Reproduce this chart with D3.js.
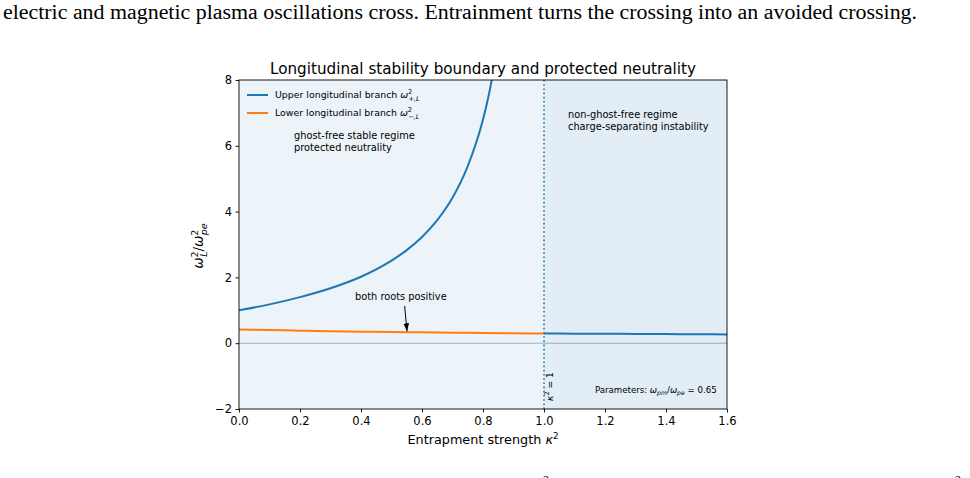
<!DOCTYPE html>
<html>
<head>
<meta charset="utf-8">
<script src="https://cdn.jsdelivr.net/npm/d3@7"></script>
<style>
  body { margin: 0; background: #fff; }
  svg { display: block; font-family: "DejaVu Sans", sans-serif; }
</style>
</head>
<body>
<svg id="chart" width="970" height="478"></svg>
<script>
// values
var kappaLeft  = [0, 0.1, 0.2, 0.3, 0.4, 0.5, 0.55, 0.6, 0.65, 0.7, 0.75, 0.8, 0.82, 0.84];
var upperLeft  = [1.0, 1.18, 1.40, 1.67, 2.02, 2.51, 2.83, 3.23, 3.74, 4.42, 5.38, 6.80, 7.59, 8.58];
var kappaLow   = [0, 0.1, 0.2, 0.3, 0.4, 0.5, 0.6, 0.7, 0.8, 0.9, 1.0];
var lowerLeft  = [0.42, 0.40, 0.38, 0.36, 0.35, 0.34, 0.33, 0.32, 0.31, 0.30, 0.297];
var kappaRight = [1.0, 1.1, 1.2, 1.3, 1.4, 1.5, 1.6];
var upperRight = [0.297, 0.291, 0.286, 0.281, 0.276, 0.271, 0.267];
var xTicks = [0, 0.2, 0.4, 0.6, 0.8, 1.0, 1.2, 1.4, 1.6];
var yTicks = [-2, 0, 2, 4, 6, 8];

var blue = "#1f77b4", orange = "#ff7f0e";
var svg = d3.select("#chart");
var pL = 239, pR = 727, pT = 80, pB = 409;

var x = d3.scaleLinear().domain([0, 1.6]).range([pL, pR]);
var y = d3.scaleLinear().domain([-2, 8]).range([pB, pT]);

// page text above the figure
svg.append("text").attr("x", 3).attr("y", 19)
  .attr("font-family", "'Liberation Serif', 'DejaVu Serif', serif")
  .attr("font-size", 20.5).attr("textLength", 914).attr("lengthAdjust", "spacingAndGlyphs")
  .text("electric and magnetic plasma oscillations cross. Entrainment turns the crossing into an avoided crossing.");
svg.append("text").attr("x", 543).attr("y", 484).attr("font-family", "'Liberation Serif', serif")
  .attr("font-size", 12).text("2");
svg.append("text").attr("x", 955).attr("y", 484).attr("font-family", "'Liberation Serif', serif")
  .attr("font-size", 12).text("2");

var defs = svg.append("defs");
defs.append("clipPath").attr("id", "plot")
  .append("rect").attr("x", pL).attr("y", pT).attr("width", pR - pL).attr("height", pB - pT);
defs.append("marker").attr("id", "arrow")
  .attr("viewBox", "0 0 10 10").attr("refX", 10).attr("refY", 5)
  .attr("markerWidth", 8).attr("markerHeight", 8).attr("orient", "auto")
  .attr("markerUnits", "userSpaceOnUse")
  .append("path").attr("d", "M0,1.5 L10,5 L0,8.5 Z").attr("fill", "#000");

var plot = svg.append("g").attr("clip-path", "url(#plot)");

// regime shading
plot.append("rect").attr("x", x(0)).attr("y", pT).attr("width", x(1) - x(0)).attr("height", pB - pT)
  .attr("fill", blue).attr("fill-opacity", 0.08);
plot.append("rect").attr("x", x(1)).attr("y", pT).attr("width", x(1.6) - x(1)).attr("height", pB - pT)
  .attr("fill", blue).attr("fill-opacity", 0.13);

// zero line
plot.append("line").attr("x1", pL).attr("x2", pR).attr("y1", y(0)).attr("y2", y(0))
  .attr("stroke", "#4f86b3").attr("stroke-opacity", 0.6).attr("stroke-width", 1.1);

var line = d3.line().x(function(d){return x(d[0])}).y(function(d){return y(d[1])}).curve(d3.curveMonotoneX);

plot.append("path").attr("d", line(d3.zip(kappaLeft, upperLeft)))
  .attr("fill", "none").attr("stroke", blue).attr("stroke-width", 2);
plot.append("path").attr("d", line(d3.zip(kappaLow, lowerLeft)))
  .attr("fill", "none").attr("stroke", orange).attr("stroke-width", 2);
plot.append("path").attr("d", line(d3.zip(kappaRight, upperRight)))
  .attr("fill", "none").attr("stroke", blue).attr("stroke-width", 2);

// kappa^2 = 1 boundary
plot.append("line").attr("x1", x(1)).attr("x2", x(1)).attr("y1", pT).attr("y2", pB)
  .attr("stroke", blue).attr("stroke-width", 1.6).attr("stroke-dasharray", "1.6,2.6");

// axes
var xAxis = svg.append("g").attr("transform", "translate(0," + pB + ")")
  .call(d3.axisBottom(x).tickValues(xTicks).tickFormat(d3.format(".1f")).tickSize(3.5).tickPadding(4.5));
var yAxis = svg.append("g").attr("transform", "translate(" + pL + ",0)")
  .call(d3.axisLeft(y).tickValues(yTicks).tickFormat(d3.format("d")).tickSize(3.5).tickPadding(3.5));
[xAxis, yAxis].forEach(function(a){
  a.attr("font-size", null).attr("font-family", null);
  a.select(".domain").remove();
  a.selectAll("text").style("font-size", "11.5px").attr("fill", "#000");
  a.selectAll("line").attr("stroke", "#000").attr("stroke-width", 0.9);
});
svg.append("rect").attr("x", pL).attr("y", pT).attr("width", pR - pL).attr("height", pB - pT)
  .attr("fill", "none").attr("stroke", "#000").attr("stroke-width", 0.9);

// titles and labels
svg.append("text").attr("x", (pL + pR) / 2).attr("y", 74).attr("text-anchor", "middle")
  .attr("font-size", 15.2).text("Longitudinal stability boundary and protected neutrality");

var xl = svg.append("text").attr("x", (pL + pR) / 2).attr("y", 444).attr("text-anchor", "middle")
  .attr("font-size", 12.8);
xl.append("tspan").text("Entrapment strength ");
xl.append("tspan").attr("font-style", "italic").text("κ");
xl.append("tspan").attr("font-size", 8.8).attr("dy", -5).text("2");

var yl = svg.append("text").attr("transform", "translate(203,246) rotate(-90)").attr("text-anchor", "middle")
  .attr("font-size", 13.5);
yl.append("tspan").attr("font-style", "italic").text("ω");
yl.append("tspan").attr("font-size", 9.5).attr("dy", -5.5).text("2");
yl.append("tspan").attr("font-size", 9.5).attr("font-style", "italic").attr("dx", -5.5).attr("dy", 9).text("L");
yl.append("tspan").attr("dy", -3.5).text("/");
yl.append("tspan").attr("font-style", "italic").text("ω");
yl.append("tspan").attr("font-size", 9.5).attr("dy", -5.5).text("2");
yl.append("tspan").attr("font-size", 9.5).attr("font-style", "italic").attr("dx", -5.5).attr("dy", 9).text("pe");

// legend
var legend = [
  { color: blue, label: "Upper longitudinal branch ", sub: "+,L" },
  { color: orange, label: "Lower longitudinal branch ", sub: "−,L" }
];
legend.forEach(function(d, i){
  var yy = 95 + i * 18;
  svg.append("line").attr("x1", 247).attr("x2", 268).attr("y1", yy).attr("y2", yy)
    .attr("stroke", d.color).attr("stroke-width", 2);
  var t = svg.append("text").attr("x", 275).attr("y", yy + 3.3).attr("font-size", 9.4);
  t.append("tspan").text(d.label);
  t.append("tspan").attr("font-style", "italic").text("ω");
  t.append("tspan").attr("font-size", 6.6).attr("dy", -4.3).text("2");
  t.append("tspan").attr("font-size", 6.6).attr("font-style", "italic").attr("dx", -3.8).attr("dy", 7).text(d.sub);
});

// annotations
function multiline(xp, yp, lines, size) {
  var t = svg.append("text").attr("x", xp).attr("y", yp).attr("font-size", size);
  lines.forEach(function(s, i){ t.append("tspan").attr("x", xp).attr("dy", i ? size * 1.2 : 0).text(s); });
}
multiline(294, 139, ["ghost-free stable regime", "protected neutrality"], 9.8);
multiline(568, 118, ["non-ghost-free regime", "charge-separating instability"], 9.8);

svg.append("text").attr("x", 355).attr("y", 300).attr("font-size", 9.8).text("both roots positive");
svg.append("line").attr("x1", x(0.543)).attr("y1", 306).attr("x2", x(0.551)).attr("y2", y(0.36))
  .attr("stroke", "#000").attr("stroke-width", 1).attr("marker-end", "url(#arrow)");

var kt = svg.append("text").attr("transform", "translate(" + (x(1) + 9) + ",401) rotate(-90)")
  .attr("font-size", 9.2);
kt.append("tspan").attr("font-style", "italic").text("κ");
kt.append("tspan").attr("font-size", 6.4).attr("dy", -4).text("2");
kt.append("tspan").attr("dy", 4).text(" = 1");

var pt = svg.append("text").attr("x", 595).attr("y", 393).attr("font-size", 8.6);
pt.append("tspan").text("Parameters: ");
pt.append("tspan").attr("font-style", "italic").text("ω");
pt.append("tspan").attr("font-size", 6.2).attr("font-style", "italic").attr("dy", 2).text("pm");
pt.append("tspan").attr("dy", -2).text("/");
pt.append("tspan").attr("font-style", "italic").text("ω");
pt.append("tspan").attr("font-size", 6.2).attr("font-style", "italic").attr("dy", 2).text("pe");
pt.append("tspan").attr("dy", -2).text(" = 0.65");
</script>
</body>
</html>
